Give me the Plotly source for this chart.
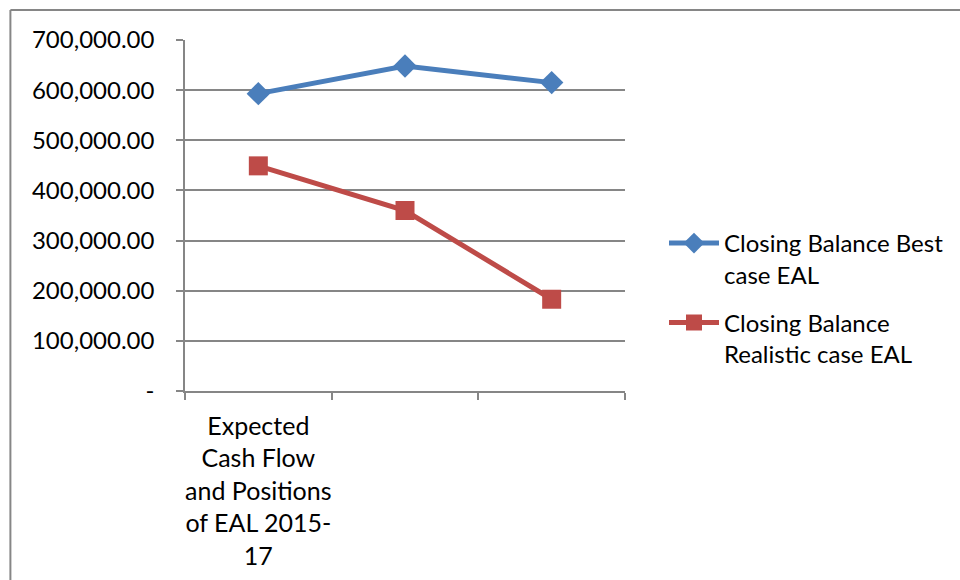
import plotly.graph_objects as go

categories = ["Expected Cash Flow and Positions of EAL 2015-17", "Period 2", "Period 3"]
category_labels = ["Expected<br>Cash Flow<br>and Positions<br>of EAL 2015-<br>17", "", ""]
best_case = [593000, 648000, 615000]
realistic_case = [449000, 360000, 183000]
y_ticks = [0, 100000, 200000, 300000, 400000, 500000, 600000, 700000]
y_ticktext = ["-", "100,000.00", "200,000.00", "300,000.00", "400,000.00",
              "500,000.00", "600,000.00", "700,000.00"]

W, H = 960, 580
L, R, T, B = 185, 626, 40, 391  # plot area in pixels
FONT = "Lato"
GRID = "#868686"

fig = go.Figure()
fig.add_trace(go.Scatter(
    x=categories, y=best_case, mode="lines+markers",
    name="Closing Balance Best<br>case EAL", legendgroup="a",
    line=dict(color="#4A7EBB", width=5),
    marker=dict(symbol="diamond", size=18, color="#4A7EBB"),
))
fig.add_trace(go.Scatter(
    x=categories, y=realistic_case, mode="lines+markers",
    name="Closing Balance<br>Realistic case EAL", legendgroup="b",
    line=dict(color="#BE4B48", width=5),
    marker=dict(symbol="square", size=19, color="#BE4B48"),
))

def px_x(p):
    return (p - L) / (R - L)

def px_y(p):
    return (B - p) / (B - T)

fig.update_layout(
    width=W, height=H,
    margin=dict(l=L, r=W - R, t=T, b=H - B),
    paper_bgcolor="white", plot_bgcolor="white",
    font=dict(family=FONT, size=24, color="black"),
    showlegend=True,
    legend=dict(
        x=px_x(664), y=px_y(221), xanchor="left", yanchor="top",
        font=dict(family=FONT, size=24, color="black"),
        valign="top", tracegroupgap=14, itemwidth=50,
        bgcolor="rgba(0,0,0,0)",
    ),
    xaxis=dict(
        type="category", categoryorder="array", categoryarray=categories,
        range=[-0.5, 2.5], automargin=False,
        tickmode="array", tickvals=categories, ticktext=category_labels,
        tickson="boundaries", ticks="outside", ticklen=7, tickcolor=GRID, tickwidth=1.5,
        showgrid=False, showline=True, linecolor=GRID, linewidth=1.5,
        zeroline=False, tickfont=dict(family=FONT, size=25), fixedrange=True,
        ticklabelstandoff=12, tickangle=0,
    ),
    yaxis=dict(
        range=[0, 700000], automargin=False,
        tickmode="array", tickvals=y_ticks, ticktext=y_ticktext,
        ticks="outside", ticklen=7, tickcolor=GRID, tickwidth=1.5,
        showgrid=True, gridcolor=GRID, gridwidth=1.5,
        showline=True, linecolor=GRID, linewidth=1.5, zeroline=False,
        tickfont=dict(family=FONT, size=24), fixedrange=True,
        ticklabelstandoff=17,
    ),
    shapes=[
        dict(type="line", xref="paper", yref="paper",
             x0=px_x(10), x1=px_x(W + 5), y0=px_y(10), y1=px_y(10),
             line=dict(color=GRID, width=2)),
        dict(type="line", xref="paper", yref="paper",
             x0=px_x(10), x1=px_x(10), y0=px_y(10), y1=px_y(H + 5),
             line=dict(color=GRID, width=2)),
    ],
)

fig.write_html("out.html")
